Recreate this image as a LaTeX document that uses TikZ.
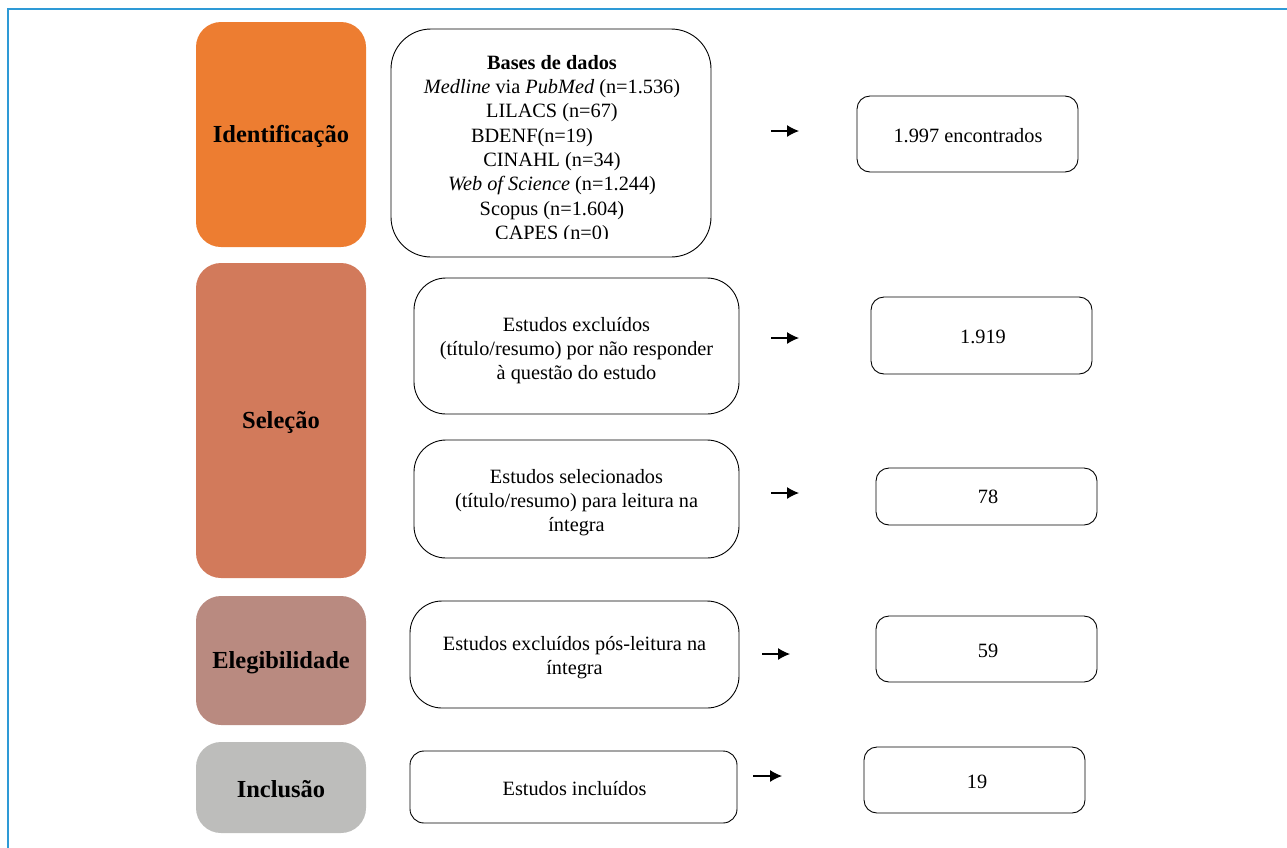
\documentclass[tikz,border=0pt]{standalone}
\usepackage{fontspec}
\setmainfont{Liberation Serif}
\usetikzlibrary{arrows.meta}
\definecolor{frameblue}{HTML}{2E9AD6}
\definecolor{phaseA}{HTML}{ED7D31}
\definecolor{phaseB}{HTML}{D27A5B}
\definecolor{phaseC}{HTML}{B98A80}
\definecolor{phaseD}{HTML}{BDBDBB}
\tikzset{
  phase/.style={rounded corners=25pt, inner sep=0pt, minimum width=170pt},
  phasetext/.style={inner sep=0pt, font=\fontsize{24.5}{29}\selectfont\bfseries, text=black},
  stagebox/.style={draw=black, line width=0.9pt, rounded corners=32pt, inner sep=0pt},
  countbox/.style={draw=black, line width=0.9pt, rounded corners=13pt, inner sep=0pt, minimum width=221pt},
  boxtext/.style={inner sep=0pt, align=center, font=\fontsize{20.3}{24}\selectfont},
  flowarrow/.style={line width=1.1pt, -{Latex[length=12pt,width=12pt]}}
}
\begin{document}
\begin{tikzpicture}[x=1pt,y=-1pt]
\useasboundingbox (0,0) rectangle (1287,847);
% frame
\draw[frameblue, line width=2pt] (8,848) -- (8,9) -- (1288,9);

% phase boxes
\node[phase, fill=phaseA, minimum height=225pt] (ident) at (281,134.5) {};
\node[phase, fill=phaseB, minimum height=315pt] (selec) at (281,420.5) {};
\node[phase, fill=phaseC, minimum height=129pt] (eleg) at (281,660.5) {};
\node[phase, fill=phaseD, minimum height=91pt] (incl) at (281,787.5) {};
\node[phasetext] (ident-t) at (281,136.5) {Identificação};
\node[phasetext] (selec-t) at (281,422.5) {Seleção};
\node[phasetext] (eleg-t) at (281,662.5) {Elegibilidade};
\node[phasetext] (incl-t) at (281,789) {Inclusão};

% bases box
\node[stagebox, rounded corners=40pt, minimum width=320pt, minimum height=228pt] (bases) at (551,143) {};
\begin{scope}
\clip (395,40) rectangle (707,238.5);
\node[boxtext, font=\fontsize{20.3}{24.3}\selectfont, anchor=north] (bases-t) at (552,55)
{\textbf{Bases de dados}\\
\textit{Medline} via \textit{PubMed} (n=1.536)\\
LILACS (n=67)\\
\mbox{BDENF(n=19)\hspace{40pt}}\\
CINAHL (n=34)\\
\textit{Web of Science} (n=1.244)\\
Scopus (n=1.604)\\
CAPES (n=0)};
\end{scope}

% stage boxes
\node[stagebox, minimum width=325pt, minimum height=136pt] (excl) at (576.5,346) {};
\node[stagebox, minimum width=325pt, minimum height=118pt] (selc) at (576.5,499) {};
\node[stagebox, minimum width=329pt, minimum height=107pt] (posl) at (574.5,654.5) {};
\node[stagebox, rounded corners=14pt, minimum width=327pt, minimum height=72pt] (inc) at (573.5,787) {};
\node[boxtext] (excl-t) at (576.5,350.5) {Estudos excluídos\\(título/resumo) por não responder\\à questão do estudo};
\node[boxtext] (selc-t) at (576.5,502.5) {Estudos selecionados\\(título/resumo) para leitura na\\íntegra};
\node[boxtext] (posl-t) at (574.5,657.5) {Estudos excluídos pós-leitura na\\íntegra};
\node[boxtext] (inc-t) at (574.5,789) {Estudos incluídos};

% count boxes
\node[countbox, minimum height=76pt] (c1) at (967.5,134) {};
\node[countbox, minimum height=77pt] (c2) at (981.5,335.5) {};
\node[countbox, minimum height=57pt] (c3) at (986.5,496.5) {};
\node[countbox, minimum height=66pt] (c4) at (986.5,649) {};
\node[countbox, minimum height=66pt] (c5) at (974.5,780) {};
\node[boxtext] (c1-t) at (968,136) {1.997 encontrados};
\node[boxtext] (c2-t) at (983,336.5) {1.919};
\node[boxtext] (c3-t) at (988,497) {78};
\node[boxtext] (c4-t) at (988,651) {59};
\node[boxtext] (c5-t) at (977,782) {19};

% arrows
\coordinate (a1s) at (771,131); \coordinate (a1e) at (799,131);
\coordinate (a2s) at (771,338); \coordinate (a2e) at (799,338);
\coordinate (a3s) at (771,493); \coordinate (a3e) at (799,493);
\coordinate (a4s) at (762,654); \coordinate (a4e) at (790,654);
\coordinate (a5s) at (753,776); \coordinate (a5e) at (782,776);
\draw[flowarrow] (a1s) -- (a1e);
\draw[flowarrow] (a2s) -- (a2e);
\draw[flowarrow] (a3s) -- (a3e);
\draw[flowarrow] (a4s) -- (a4e);
\draw[flowarrow] (a5s) -- (a5e);
\end{tikzpicture}
\end{document}
